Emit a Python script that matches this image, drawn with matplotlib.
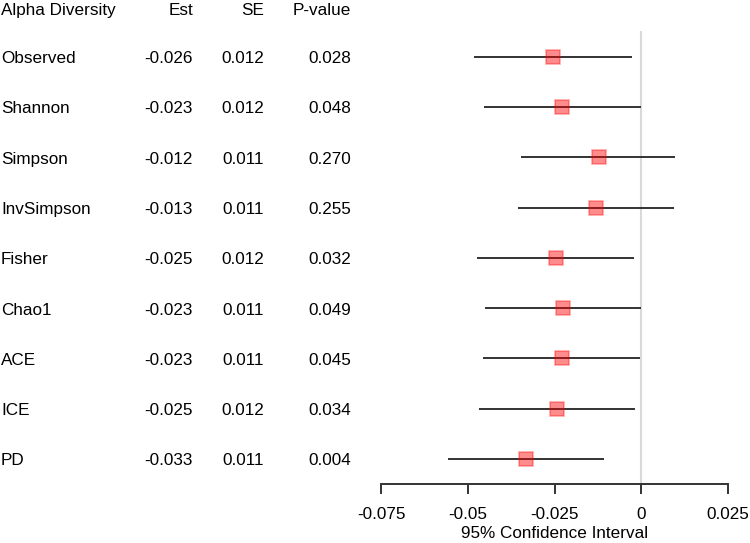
import numpy as np
import matplotlib.pyplot as plt
from matplotlib.transforms import blended_transform_factory

plt.rcParams['font.family'] = ['Liberation Sans', 'DejaVu Sans']
plt.rcParams['font.size'] = 12.3

# data
metrics = ['Observed', 'Shannon', 'Simpson', 'InvSimpson', 'Fisher',
           'Chao1', 'ACE', 'ICE', 'PD']
est_txt = ['-0.026', '-0.023', '-0.012', '-0.013', '-0.025',
           '-0.023', '-0.023', '-0.025', '-0.033']
se_txt = ['0.012', '0.012', '0.011', '0.011', '0.012',
          '0.011', '0.011', '0.012', '0.011']
p_txt = ['0.028', '0.048', '0.270', '0.255', '0.032',
         '0.049', '0.045', '0.034', '0.004']
est = [-0.0254, -0.0229, -0.0123, -0.0129, -0.0247,
       -0.0225, -0.0229, -0.0244, -0.0331]
ci_low = [-0.0483, -0.0454, -0.0347, -0.0355, -0.0474,
          -0.0449, -0.0455, -0.0469, -0.0557]
ci_high = [-0.0028, -0.0002, 0.0096, 0.0095, -0.0022,
           -0.0001, -0.0004, -0.0019, -0.0107]
xticks = [-0.075, -0.05, -0.025, 0, 0.025]
xticklabels = ['-0.075', '-0.05', '-0.025', '0', '0.025']

W, H = 750, 543
fig = plt.figure(figsize=(W / 100, H / 100), dpi=100)
ax = fig.add_axes([381 / W, (H - 484) / H, (728 - 381) / W, 484 / H])

rows = np.arange(len(metrics))
ax.set_xlim(-0.075, 0.025)
ax.set_ylim(8.50, -1.128)

# reference line at zero
ax.vlines(0, -0.51, 8.50, color='#d9d9d9', lw=1.5, zorder=1)

ax.hlines(rows, ci_low, ci_high, color='#333333', lw=1.4, zorder=2)
ax.plot(est, rows, ls='none', marker='s', ms=9.5, color='red',
        mfc=(1, 0, 0, 0.45), mec=(1, 0, 0, 0.35), mew=1.2, zorder=3)

for s in ['top', 'right', 'left']:
    ax.spines[s].set_visible(False)
ax.spines['bottom'].set_color('#333333')
ax.spines['bottom'].set_linewidth(1.4)
ax.set_yticks([])
ax.set_xticks(xticks)
ax.set_xticklabels(xticklabels)
ax.tick_params(axis='x', length=7.2, width=1.4, color='#333333', pad=9.5)
ax.set_xlabel('95% Confidence Interval', labelpad=3)

# table columns on the left
tr = blended_transform_factory(fig.transFigure, ax.transData)
hdr_y = -0.91
cols = [(1, 'left'), (193, 'right'), (264, 'right'), (351, 'right')]
headers = ['Alpha Diversity', 'Est', 'SE', 'P-value']
for (px, ha), h in zip(cols, headers):
    ax.text(px / W, hdr_y, h, ha=ha, va='center', transform=tr, clip_on=False)
for i in rows:
    for (px, ha), col in zip(cols, [metrics, est_txt, se_txt, p_txt]):
        ax.text(px / W, i + 0.04, col[i], ha=ha, va='center', transform=tr,
                clip_on=False)

fig.savefig('out.png', dpi=100)
